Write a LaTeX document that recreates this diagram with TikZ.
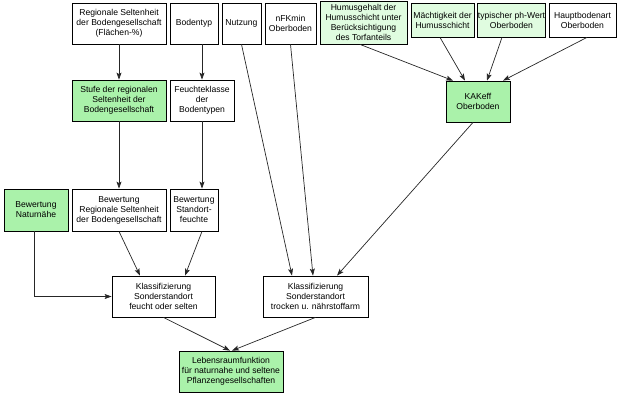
\documentclass[tikz,border=0pt]{standalone}
\usepackage{fontspec}
\setmainfont{Liberation Sans}
\usetikzlibrary{arrows.meta}
\definecolor{boxgreen}{RGB}{170,242,170}
\definecolor{palegreen}{RGB}{224,252,224}
\tikzset{
  bx/.style 2 args={draw=black, line width=0.8pt, fill=white, rectangle, align=center,
    inner xsep=0.3pt, inner ysep=0pt, minimum width=#1pt, minimum height=#2pt,
    font=\fontsize{8.6pt}{10pt}\selectfont},
  gr/.style={fill=boxgreen},
  pg/.style={fill=palegreen},
  arr/.style={draw=black!85, line width=0.7pt, -{Stealth[length=7pt,width=5pt,inset=1.5pt]}}
}
\begin{document}
\begin{tikzpicture}[x=1pt,y=-1pt]
\useasboundingbox (0,0) rectangle (620,400);
% top row
\node[bx={94}{41}] (reg) at (119,23.5) {Regionale Seltenheit\\der Bodengesellschaft\\(Flächen-\%)};
\node[bx={48}{41}] (btyp) at (194,23.5) {Bodentyp};
\node[bx={39}{41}] (nutz) at (241.5,23.5) {Nutzung};
\node[bx={51}{41}] (nfk) at (290.5,23.5) {nFKmin\\Oberboden};
\node[bx={87}{43},pg] (humus) at (363.5,22.5) {Humusgehalt der\\Humusschicht unter\\Berücksichtigung\\des Torfanteils};
\node[bx={63}{34},pg] (maech) at (442.5,20) {Mächtigkeit der\\Humusschicht};
\node[bx={67}{34},pg] (ph) at (511.5,20) {typischer ph-Wert\\Oberboden};
\node[bx={67}{34}] (haupt) at (582.5,20) {Hauptbodenart\\Oberboden};
% second row
\node[bx={94}{41},gr] (stufe) at (119,100.5) {Stufe der regionalen\\Seltenheit der\\Bodengesellschaft};
\node[bx={64}{41}] (feuchk) at (202,100.5) {Feuchteklasse\\der\\Bodentypen};
\node[bx={64}{41},gr] (kak) at (478,101.5) {KAKeff\\Oberboden};
% third row
\node[bx={64}{42},gr] (natur) at (36,210) {Bewertung\\Naturnähe};
\node[bx={94}{42}] (bewreg) at (119,210) {Bewertung\\Regionale Seltenheit\\der Bodengesellschaft};
\node[bx={48}{42}] (bewfeu) at (194,210) {Bewertung\\Standort-\\feuchte};
% fourth row
\node[bx={103}{41}] (kfeucht) at (163.5,296.5) {Klassifizierung\\Sonderstandort\\feucht oder selten};
\node[bx={105}{41}] (ktrock) at (315.5,296.5) {Klassifizierung\\Sonderstandort\\trocken u. nährstoffarm};
% bottom
\node[bx={104}{41},gr] (leben) at (231,371.5) {Lebensraumfunktion\\für naturnahe und seltene\\Pflanzengesellschaften};
% connectors
\draw[arr] (reg.south) -- (stufe.north);
\draw[arr] ([xshift=8pt]btyp.south) -- (feuchk.north);
\draw[arr] (stufe.south) -- (bewreg.north);
\draw[arr] (feuchk.south) -- ([xshift=8pt]bewfeu.north);
\draw[arr] (bewreg.south) -- ([xshift=-23.5pt]kfeucht.north);
\draw[arr] ([xshift=8pt]bewfeu.south) -- ([xshift=21.5pt]kfeucht.north);
\draw[arr] ([xshift=-2pt]natur.south) |- (kfeucht.west);
\draw[arr] (nutz.south) -- ([xshift=-23.5pt]ktrock.north);
\draw[arr] (nfk.south) -- ([xshift=-2.5pt]ktrock.north);
\draw[arr] ([xshift=-5pt]kak.south) -- ([xshift=21.5pt]ktrock.north);
\draw[arr] ([xshift=-3.5pt]humus.south) -- ([xshift=-25pt]kak.north);
\draw[arr] ([xshift=-2.5pt]maech.south) -- ([xshift=-13pt]kak.north);
\draw[arr] ([xshift=-9.5pt]ph.south) -- ([xshift=9pt]kak.north);
\draw[arr] ([xshift=4.5pt]haupt.south) -- ([xshift=25pt]kak.north);
\draw[arr] (kfeucht.south) -- ([xshift=-1pt]leben.north);
\draw[arr] (ktrock.south) -- ([xshift=1pt]leben.north);
\end{tikzpicture}
\end{document}
